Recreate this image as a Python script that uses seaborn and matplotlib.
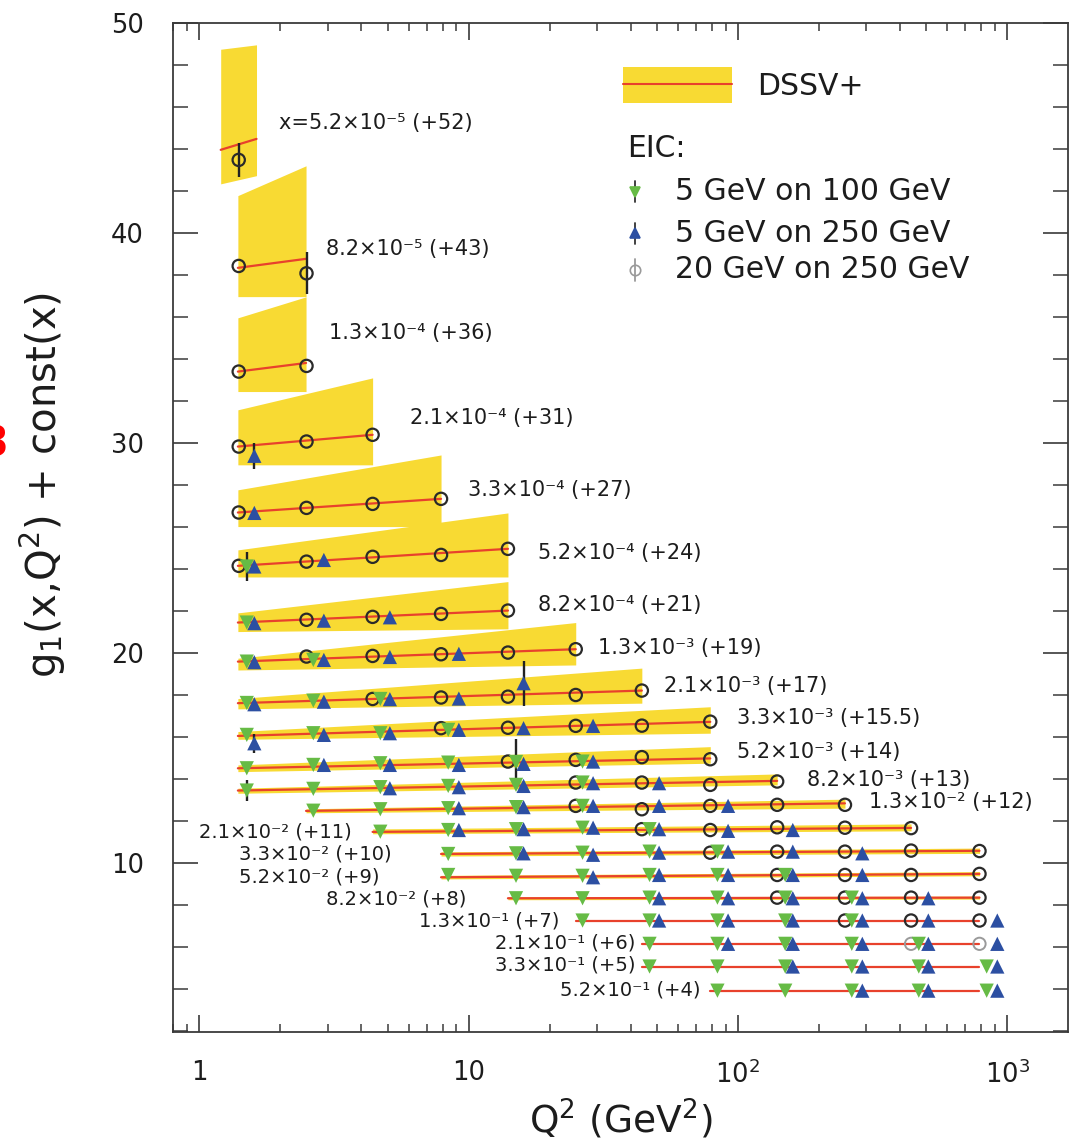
import numpy as np
import pandas as pd
import matplotlib
matplotlib.use("Agg")
import matplotlib.pyplot as plt
import seaborn as sns
from matplotlib.ticker import FixedLocator, LogLocator, MultipleLocator, FixedFormatter, NullFormatter
from matplotlib.patches import Rectangle
from matplotlib.lines import Line2D

# ---------------- data ----------------
# Q^2 bin centres (GeV^2) for the three EIC configurations
Q2_CIRC = [1.4, 2.5, 4.4, 7.9, 14, 25, 44, 79, 140, 250, 440, 790]
Q2_GREEN = [1.5, 2.65, 4.7, 8.4, 15, 26.5, 47, 84, 150, 265, 470, 840]
Q2_BLUE = [1.6, 2.9, 5.1, 9.2, 16, 29, 51, 92, 160, 290, 510, 920]

X_MANT = ["5.2", "8.2", "1.3", "2.1", "3.3", "5.2", "8.2", "1.3", "2.1", "3.3", "5.2",
          "8.2", "1.3", "2.1", "3.3", "5.2", "8.2", "1.3", "2.1", "3.3", "5.2"]
X_EXP = [-5, -5, -4, -4, -4, -4, -4, -3, -3, -3, -3, -3, -2, -2, -2, -2, -2, -1, -1, -1, -1]
OFFSETS = ["+52", "+43", "+36", "+31", "+27", "+24", "+21", "+19", "+17", "+15.5", "+14",
           "+13", "+12", "+11", "+10", "+9", "+8", "+7", "+6", "+5", "+4"]

# DSSV+ band: Q^2 range, lower / upper edge at both ends, central line at both ends
BAND_Q2_MIN = [1.2, 1.39, 1.39, 1.39, 1.39, 1.39, 1.39, 1.39, 1.39, 1.39, 1.39, 1.39,
               2.49, 4.4, 7.9, 7.9, 14, 25, 44, 44, 79]
BAND_Q2_MAX = [1.63, 2.49, 2.49, 4.4, 7.9, 14, 14, 25, 44, 79, 79, 140,
               250, 440, 790, 790, 790, 790, 790, 790, 790]
BAND_HI_L = [48.76, 41.79, 35.97, 31.59, 27.78, 24.92, 21.92, 19.76, 17.84, 16.27, 14.68,
             13.57, 12.59, 11.63, 10.54, 9.42, 8.40, 7.27, 6.16, 5.08, 3.93]
BAND_HI_R = [48.97, 43.21, 36.97, 33.11, 29.44, 26.68, 23.41, 21.46, 19.29, 17.45, 15.55,
             14.25, 13.05, 11.87, 10.72, 9.60, 8.43, 7.27, 6.16, 5.08, 3.93]
BAND_LO_L = [42.35, 36.98, 32.46, 28.97, 26.03, 23.63, 21.03, 19.20, 17.35, 15.90, 14.36,
             13.33, 12.40, 11.40, 10.34, 9.25, 8.26, 7.27, 6.16, 5.08, 3.93]
BAND_LO_R = [42.74, 36.98, 32.46, 28.97, 26.03, 23.63, 21.16, 19.44, 17.62, 16.19, 14.76,
             13.73, 12.62, 11.54, 10.47, 9.40, 8.29, 7.27, 6.16, 5.08, 3.93]
LINE_L = [43.97, 38.35, 33.41, 29.84, 26.70, 24.16, 21.46, 19.60, 17.62, 16.06, 14.52,
          13.46, 12.49, 11.49, 10.44, 9.33, 8.33, 7.27, 6.16, 5.08, 3.93]
LINE_R = [44.49, 38.78, 33.82, 30.40, 27.35, 24.97, 22.03, 20.19, 18.22, 16.73, 14.99,
          13.92, 12.85, 11.68, 10.59, 9.49, 8.36, 7.27, 6.16, 5.08, 3.93]

# EIC pseudo-data: per x-row, list of (Q^2 bin index, g1 + const)
CIRC_PTS = [
    [(0, 43.49)],
    [(0, 38.44), (1, 38.09)],
    [(0, 33.41), (1, 33.68)],
    [(0, 29.84), (1, 30.08), (2, 30.40)],
    [(0, 26.70), (1, 26.92), (2, 27.11), (3, 27.35)],
    [(0, 24.16), (1, 24.36), (2, 24.59), (3, 24.68), (4, 24.97)],
    [(1, 21.59), (2, 21.73), (3, 21.87), (4, 22.03)],
    [(1, 19.84), (2, 19.87), (3, 19.95), (4, 20.03), (5, 20.19)],
    [(2, 17.82), (3, 17.89), (4, 17.93), (5, 18.01), (6, 18.22)],
    [(3, 16.43), (4, 16.45), (5, 16.54), (6, 16.55), (7, 16.74)],
    [(4, 14.84), (5, 14.92), (6, 15.05), (7, 14.95)],
    [(5, 13.84), (6, 13.84), (7, 13.73), (8, 13.89)],
    [(5, 12.73), (6, 12.57), (7, 12.73), (8, 12.78), (9, 12.78)],
    [(6, 11.62), (7, 11.58), (8, 11.71), (9, 11.69), (10, 11.67)],
    [(7, 10.50), (8, 10.55), (9, 10.55), (10, 10.60), (11, 10.58)],
    [(8, 9.44), (9, 9.44), (10, 9.44), (11, 9.49)],
    [(8, 8.36), (9, 8.36), (10, 8.36), (11, 8.36)],
    [(9, 7.27), (10, 7.27), (11, 7.27)],
    [],
    [],
    [],
]
CIRC_FAINT_ROW = [18, 18]
CIRC_FAINT_BIN = [10, 11]
CIRC_FAINT_Y = [6.16, 6.16]

GREEN_PTS = [
    [], [], [], [], [],
    [(0, 24.13)],
    [(0, 21.46)],
    [(0, 19.60), (1, 19.68)],
    [(0, 17.63), (1, 17.74), (2, 17.82)],
    [(0, 16.11), (1, 16.19), (2, 16.19), (3, 16.35)],
    [(0, 14.52), (1, 14.68), (2, 14.76), (3, 14.79), (4, 14.82), (5, 14.84)],
    [(0, 13.46), (1, 13.54), (2, 13.62), (3, 13.68), (4, 13.73), (5, 13.84)],
    [(1, 12.50), (2, 12.57), (3, 12.62), (4, 12.67), (5, 12.73)],
    [(2, 11.50), (3, 11.58), (4, 11.62), (5, 11.69), (6, 11.62)],
    [(3, 10.44), (4, 10.47), (5, 10.50), (6, 10.55), (7, 10.55)],
    [(3, 9.44), (4, 9.40), (5, 9.40), (6, 9.44), (7, 9.44), (8, 9.44)],
    [(4, 8.33), (5, 8.33), (6, 8.36), (7, 8.36), (8, 8.36), (9, 8.36)],
    [(5, 7.27), (6, 7.27), (7, 7.27), (8, 7.27), (9, 7.27)],
    [(6, 6.16), (7, 6.16), (8, 6.16), (9, 6.16), (10, 6.16)],
    [(6, 5.08), (7, 5.08), (8, 5.08), (9, 5.08), (10, 5.08), (11, 5.08)],
    [(7, 3.93), (8, 3.93), (9, 3.93), (10, 3.93), (11, 3.93)],
]

BLUE_PTS = [
    [], [], [],
    [(0, 29.40)],
    [(0, 26.68)],
    [(0, 24.13), (1, 24.44)],
    [(0, 21.43), (1, 21.55), (2, 21.71)],
    [(0, 19.57), (1, 19.68), (2, 19.82), (3, 19.97)],
    [(0, 17.57), (1, 17.69), (2, 17.81), (3, 17.84), (4, 18.57)],
    [(0, 15.71), (1, 16.11), (2, 16.19), (3, 16.35), (4, 16.43), (5, 16.54)],
    [(1, 14.68), (2, 14.68), (3, 14.68), (4, 14.73), (5, 14.84)],
    [(2, 13.57), (3, 13.62), (4, 13.68), (5, 13.81), (6, 13.81)],
    [(3, 12.62), (4, 12.67), (5, 12.73), (6, 12.73), (7, 12.73)],
    [(3, 11.58), (4, 11.62), (5, 11.69), (6, 11.62), (7, 11.54), (8, 11.58)],
    [(4, 10.47), (5, 10.40), (6, 10.50), (7, 10.55), (8, 10.55), (9, 10.47)],
    [(5, 9.33), (6, 9.44), (7, 9.44), (8, 9.44), (9, 9.44)],
    [(6, 8.33), (7, 8.33), (8, 8.33), (9, 8.33), (10, 8.33)],
    [(6, 7.27), (7, 7.27), (8, 7.27), (9, 7.27), (10, 7.27), (11, 7.27)],
    [(7, 6.16), (8, 6.16), (9, 6.16), (10, 6.16), (11, 6.16)],
    [(8, 5.08), (9, 5.08), (10, 5.08), (11, 5.08)],
    [(9, 3.93), (10, 3.93), (11, 3.93)],
]

# visible error bars: series, row, Q^2 bin, half-size
ERR_SERIES = ["circ", "circ", "blue", "green", "blue", "blue", "green", "green"]
ERR_ROW = [0, 1, 3, 5, 8, 9, 10, 11]
ERR_BIN = [0, 1, 0, 0, 4, 0, 4, 0]
ERR_SIZE = [0.8, 1.0, 0.63, 0.68, 1.07, 0.44, 1.1, 0.48]

# row label anchor positions (left edge, vertical centre) in data units
LABEL_Q2 = [1.98, 2.96, 3.04, 6.04, 9.94, 18.05, 18.05, 30.2, 53.2, 99.6, 99.6, 180.6,
            306.6, 0.994, 1.409, 1.409, 2.958, 6.53, 12.5, 12.5, 21.8]
LABEL_Y = [45.24, 39.24, 35.24, 31.19, 27.78, 24.78, 22.3, 20.24, 18.44, 16.9, 15.31,
           13.97, 12.93, 11.5, 10.44, 9.33, 8.29, 7.27, 6.22, 5.16, 3.97]

XTICKS = [1, 10, 100, 1000]
XTICK_LABELS = ["1", "10", "$10^{2}$", "$10^{3}$"]
LEGEND_LABELS = ["DSSV+", "EIC:", "5 GeV on 100 GeV", "5 GeV on 250 GeV", "20 GeV on 250 GeV"]

# ---------------- style ----------------
YELLOW = "#F8DA33"
RED = "#E8412C"
GREEN = "#66BB45"
BLUE = "#2C4FA2"
CIRC_EDGE = "#2a2a2a"
FAINT = "#9a9a9a"
TXT = "#1c1c1c"
AXC = "#3a3a3a"
LABEL_FS_UPPER = 15.0   # rows up to x = 1.3e-2
LABEL_FS_LOWER = 14.0   # rows from x = 2.1e-2
SUP = str.maketrans("-0123456789", "\u207b\u2070\u00b9\u00b2\u00b3\u2074\u2075\u2076\u2077\u2078\u2079")

sns.set_theme(style="ticks")
plt.rcParams["font.family"] = ["DejaVu Sans"]
plt.rcParams["mathtext.fontset"] = "dejavusans"

fig = plt.figure(figsize=(10.69, 11.43), dpi=100)
ax = fig.add_axes([0.1621, 0.0969, 0.8367, 0.8828])
ax.set_xscale("log")
ax.set_xlim(0.8, 1680)
ax.set_ylim(1.95, 50)

# bands
for i in range(len(BAND_Q2_MIN)):
    if BAND_HI_L[i] - BAND_LO_L[i] > 1e-6 or BAND_HI_R[i] - BAND_LO_R[i] > 1e-6:
        ax.fill_between([BAND_Q2_MIN[i], BAND_Q2_MAX[i]],
                        [BAND_LO_L[i], BAND_LO_R[i]],
                        [BAND_HI_L[i], BAND_HI_R[i]],
                        color=YELLOW, linewidth=0, zorder=1)

# central DSSV+ curves
line_df = pd.DataFrame({
    "row": np.repeat(np.arange(len(LINE_L)), 2),
    "q2": np.ravel(np.column_stack([BAND_Q2_MIN, BAND_Q2_MAX])),
    "g1": np.ravel(np.column_stack([LINE_L, LINE_R])),
})
sns.lineplot(data=line_df, x="q2", y="g1", units="row", estimator=None, sort=False,
             color=RED, linewidth=1.6, ax=ax, legend=False, zorder=2)


def to_df(pts, q2):
    recs = []
    for r, lst in enumerate(pts):
        for b, y in lst:
            recs.append((r, q2[b], y))
    return pd.DataFrame(recs, columns=["row", "q2", "g1"])


dfc = to_df(CIRC_PTS, Q2_CIRC)
dfg = to_df(GREEN_PTS, Q2_GREEN)
dfb = to_df(BLUE_PTS, Q2_BLUE)

# error bars
q2map = {"circ": Q2_CIRC, "green": Q2_GREEN, "blue": Q2_BLUE}
ptsmap = {"circ": CIRC_PTS, "green": GREEN_PTS, "blue": BLUE_PTS}
for s, r, b, e in zip(ERR_SERIES, ERR_ROW, ERR_BIN, ERR_SIZE):
    yv = dict(ptsmap[s][r])[b]
    ax.vlines(q2map[s][b], yv - e, yv + e, color="#222222", linewidth=1.7, zorder=3)

ax.scatter(dfc["q2"], dfc["g1"], marker="o", s=78, facecolors="none",
           edgecolors=CIRC_EDGE, linewidths=1.6, zorder=4)
ax.scatter([Q2_CIRC[b] for b in CIRC_FAINT_BIN], CIRC_FAINT_Y, marker="o", s=78,
           facecolors="none", edgecolors=FAINT, linewidths=1.4, zorder=4)
sns.scatterplot(data=dfg, x="q2", y="g1", marker="v", s=105, color=GREEN,
                edgecolor="none", ax=ax, legend=False, zorder=5)
sns.scatterplot(data=dfb, x="q2", y="g1", marker="^", s=105, color=BLUE,
                edgecolor="none", ax=ax, legend=False, zorder=6)

# row labels
for i in range(len(X_MANT)):
    prefix = "x=" if i == 0 else ""
    lab = f"{prefix}{X_MANT[i]}\u00d710{str(X_EXP[i]).translate(SUP)} ({OFFSETS[i]})"
    fs = LABEL_FS_UPPER if i <= 12 else LABEL_FS_LOWER
    ax.text(LABEL_Q2[i], LABEL_Y[i], lab, fontsize=fs, color=TXT,
            ha="left", va="center", zorder=7)

# axes styling
ax.xaxis.set_major_locator(FixedLocator(XTICKS))
ax.xaxis.set_major_formatter(FixedFormatter(XTICK_LABELS))
ax.xaxis.set_minor_locator(LogLocator(base=10, subs=np.arange(2, 10)))
ax.xaxis.set_minor_formatter(NullFormatter())
ax.yaxis.set_major_locator(MultipleLocator(10))
ax.yaxis.set_minor_locator(MultipleLocator(2))

for sp in ax.spines.values():
    sp.set_visible(True)
    sp.set_color(AXC)
    sp.set_linewidth(1.3)

ax.tick_params(axis="x", which="major", direction="in", length=12, width=1.2,
               top=True, bottom=True, colors=AXC, labelcolor=TXT, labelsize=18.5, pad=20)
ax.tick_params(axis="x", which="minor", direction="in", length=6, width=1.1,
               top=True, bottom=True, colors=AXC)
ax.tick_params(axis="y", which="major", direction="in", length=18, width=1.2,
               left=True, right=True, colors=AXC, labelcolor=TXT, labelsize=18.5, pad=21)
ax.tick_params(axis="y", which="minor", direction="in", length=10.5, width=1.1,
               left=True, right=True, colors=AXC)

ax.set_xlabel("Q$^{2}$ (GeV$^{2}$)", fontsize=27, color=TXT)
ax.set_ylabel("g$_{1}$(x,Q$^{2}$) + const(x)", fontsize=29, color=TXT)
ax.xaxis.set_label_coords(0.5, -0.086)
ax.xaxis.label.set_verticalalignment("center")
ax.yaxis.set_label_coords(-0.146, 0.542)
ax.yaxis.label.set_verticalalignment("center")

# legend (drawn in axes fraction)
T = ax.transAxes
ax.add_patch(Rectangle((0.503, 0.9207), 0.1213, 0.0363, facecolor=YELLOW,
                       edgecolor="none", transform=T, zorder=8))
ax.add_line(Line2D([0.503, 0.6243], [0.9395, 0.9395], color=RED, linewidth=1.5,
                   transform=T, zorder=9))
ax.text(0.6523, 0.9372, LEGEND_LABELS[0], transform=T, fontsize=21.5, color=TXT,
        ha="left", va="center")
ax.text(0.5071, 0.8761, LEGEND_LABELS[1], transform=T, fontsize=21.5, color=TXT,
        ha="left", va="center")
leg_y = [0.8331, 0.7919, 0.7555]
leg_mk = ["v", "^", "o"]
leg_fc = [GREEN, BLUE, "none"]
leg_ec = [GREEN, BLUE, FAINT]
for k in range(3):
    ax.add_line(Line2D([0.5162, 0.5162], [leg_y[k] - 0.0105, leg_y[k] + 0.0105],
                       color="#333333" if k < 2 else FAINT, linewidth=1.3, transform=T, zorder=9))
    ax.add_line(Line2D([0.5162], [leg_y[k]], marker=leg_mk[k], markersize=7.5,
                       markerfacecolor=leg_fc[k], markeredgecolor=leg_ec[k],
                       markeredgewidth=1.2, linestyle="none", transform=T, zorder=10))
    ax.text(0.5609, leg_y[k], LEGEND_LABELS[k + 2], transform=T, fontsize=21.5,
            color=TXT, ha="left", va="center")

# cropped red glyph at the very left edge of the original picture
fig.text(-0.006, 0.6107, "3", color="red", fontsize=30, fontweight="bold",
         ha="center", va="center")

fig.savefig("out.png", dpi=100)
